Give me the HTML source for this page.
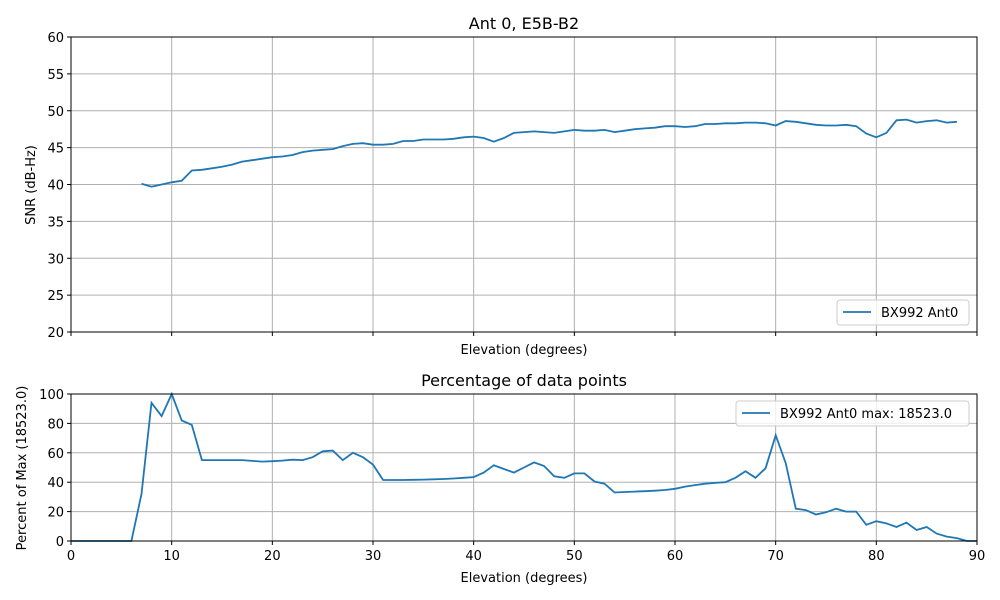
<!DOCTYPE html>
<html><head><meta charset="utf-8"><style>
body{margin:0;background:#fff;}
svg{display:block;font-family:"DejaVu Sans","Liberation Sans",sans-serif;}
</style></head><body>
<svg id="s" width="1000" height="600" xmlns="http://www.w3.org/2000/svg"></svg>
<script>
const s=document.getElementById('s');
const L=71,R=977;
const top1=[40.1,39.7,40.0,40.3,40.5,41.9,42.0,42.2,42.4,42.7,43.1,43.3,43.5,43.7,43.8,44.0,44.4,44.6,44.7,44.8,45.2,45.5,45.6,45.4,45.4,45.5,45.9,45.9,46.1,46.1,46.1,46.2,46.4,46.5,46.3,45.8,46.3,47.0,47.1,47.2,47.1,47.0,47.2,47.4,47.3,47.3,47.4,47.1,47.3,47.5,47.6,47.7,47.9,47.9,47.8,47.9,48.2,48.2,48.3,48.3,48.4,48.4,48.3,48.0,48.6,48.5,48.3,48.1,48.0,48.0,48.1,47.9,46.9,46.4,47.0,48.7,48.8,48.4,48.6,48.7,48.4,48.5];
const bot=[0,0,0,0,0,0,0,32,94,85,100,82,79,55,55,55,55,55,54.5,54,54.3,54.7,55.3,55,57,61,61.5,55,60,57,52,41.5,41.5,41.5,41.6,41.8,42,42.2,42.5,43,43.5,46.5,51.5,49,46.5,50,53.5,51,44,43,46,46,40.5,39,33,33.3,33.6,33.9,34.2,34.7,35.5,37,38,39,39.5,40,43,47.5,43,49.5,72,53,22,21,18,19.5,22,20,20,11,13.5,12,9.5,12.5,7.5,9.5,5,3,2,0,0];
let h='';
const X=v=>L+(R-L)*v/90;
function axes(T,B,ymin,ymax,ystep,showX){
  for(let v=0;v<=90;v+=10){const x=X(v);h+=`<line x1="${x}" y1="${T}" x2="${x}" y2="${B}" stroke="#b0b0b0" stroke-width="1"/>`;
    h+=`<line x1="${x}" y1="${B}" x2="${x}" y2="${B+4}" stroke="#000"/>`;
    if(showX)h+=`<text x="${x}" y="${B+19}" font-size="13" text-anchor="middle">${v}</text>`;}
  for(let v=ymin;v<=ymax;v+=ystep){const y=B-(B-T)*(v-ymin)/(ymax-ymin);
    h+=`<line x1="${L}" y1="${y}" x2="${R}" y2="${y}" stroke="#b0b0b0"/>`;
    h+=`<line x1="${L-4}" y1="${y}" x2="${L}" y2="${y}" stroke="#000"/>`;
    h+=`<text x="${L-7}" y="${y+5}" font-size="13" text-anchor="end">${v}</text>`;}
}
function line(data,x0,T,B,ymin,ymax){
  let p=data.map((v,i)=>`${X(x0+i).toFixed(1)},${(B-(B-T)*(v-ymin)/(ymax-ymin)).toFixed(1)}`).join(' ');
  h+=`<polyline points="${p}" fill="none" stroke="#1f77b4" stroke-width="1.8"/>`;
}
axes(37,332,20,60,5,false);
line(top1,7,37,332,20,60);
h+=`<rect x="${L}" y="37" width="${R-L}" height="295" fill="none" stroke="#000"/>`;
h+=`<text x="524" y="29" font-size="16" text-anchor="middle">Ant 0, E5B-B2</text>`;
h+=`<text x="524" y="354" font-size="13" text-anchor="middle">Elevation (degrees)</text>`;
h+=`<text transform="translate(35,185) rotate(-90)" font-size="13" text-anchor="middle">SNR (dB-Hz)</text>`;
h+=`<rect x="837" y="300" width="132" height="25" rx="3" fill="#fff" fill-opacity="0.8" stroke="#ccc"/>`;
h+=`<line x1="843" y1="312" x2="871" y2="312" stroke="#1f77b4" stroke-width="1.8"/>`;
h+=`<text x="881" y="317" font-size="13">BX992 Ant0</text>`;
axes(394,541,0,100,20,true);
line(bot,0,394,541,0,100);
h+=`<rect x="${L}" y="394" width="${R-L}" height="147" fill="none" stroke="#000"/>`;
h+=`<text x="524" y="386" font-size="16" text-anchor="middle">Percentage of data points</text>`;
h+=`<text x="524" y="582" font-size="13" text-anchor="middle">Elevation (degrees)</text>`;
h+=`<text transform="translate(26,468) rotate(-90)" font-size="13" text-anchor="middle">Percent of Max (18523.0)</text>`;
h+=`<rect x="736" y="401" width="233" height="25" rx="3" fill="#fff" fill-opacity="0.8" stroke="#ccc"/>`;
h+=`<line x1="742" y1="413" x2="770" y2="413" stroke="#1f77b4" stroke-width="1.8"/>`;
h+=`<text x="780" y="418" font-size="13">BX992 Ant0 max: 18523.0</text>`;
s.innerHTML=h;
</script>
</body></html>
